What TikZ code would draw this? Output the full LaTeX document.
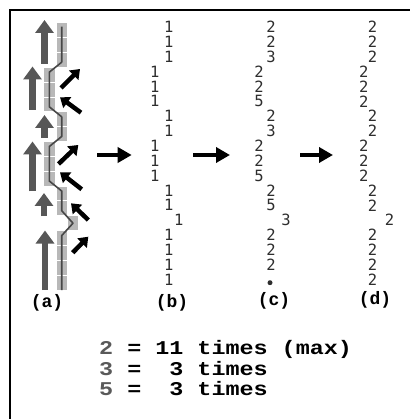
\documentclass[tikz,border=0pt]{standalone}
\usepackage{fontspec}
\setmonofont{Liberation Mono}
\newfontfamily\digitfont{DejaVu Sans Mono}
\newfontfamily\legendfont[FakeStretch=1.2]{Liberation Mono Bold}
\usetikzlibrary{arrows.meta}
\definecolor{cellgray}{gray}{0.72}
\definecolor{upgray}{gray}{0.34}
\definecolor{digitgray}{gray}{0.18}
\def\cellh{14.85}
\tikzset{
	cell/.style={fill=cellgray, draw=white, line width=0.8pt},
	uparrow/.style={upgray, line width=6.5pt, -{Triangle[width=18pt,length=13pt]}},
	tiltarrow/.style={black, line width=4.5pt, -{Triangle[width=13pt,length=9pt]}},
	bigarrow/.style={black, line width=4.5pt, -{Triangle[width=15pt,length=14pt]}},
	pathline/.style={black!72, line width=1.6pt, line join=round},
	digit/.style={inner sep=0pt, text=digitgray, font=\digitfont\fontsize{15.5}{15.5}\selectfont},
	tag/.style={inner sep=0pt, font=\ttfamily\bfseries\fontsize{18}{18}\selectfont},
	legend/.style={inner sep=0pt, anchor=west, font=\legendfont\fontsize{19.5}{19.5}\selectfont}
}

\begin{document}
\begin{tikzpicture}[x=1pt, y=-1pt]
			%%%%% START %%%%%
			\useasboundingbox (0,0) rectangle (410,419);
			
			\draw[line width=2pt] (10,419) -- (10,10) -- (410,10);
			
			% (a) cells and track
			\foreach \cx [count=\k from 0] in {61.7,61.7,61.7,49.3,49.3,49.3,61.7,61.7,49.3,49.3,49.3,61.7,61.7,73,61.7,61.7,61.7,61.7}
				\draw[cell] (\cx-5.8, 22.7+\cellh*\k) rectangle (\cx+5.8, 22.7+\cellh*\k+\cellh);
			
			\draw[pathline] (61.7,26.7) -- (61.7,62.2) -- (49.3,72.2) -- (49.3,106.8) -- (61.7,116.8)
				-- (61.7,136.5) -- (49.3,146.5) -- (49.3,181) -- (61.7,191) -- (61.7,210.7)
				-- (73,223.2) -- (61.7,235.6) -- (61.7,290);
			
			\draw[uparrow] (44.5,64) -- (44.5,20);
			\draw[uparrow] (32.5,110) -- (32.5,66.5);
			\draw[uparrow] (44.5,138) -- (44.5,115);
			\draw[uparrow] (32.5,191.5) -- (32.5,141.5);
			\draw[uparrow] (44,216) -- (44,193);
			\draw[uparrow] (45,290) -- (45,230.5);
			
			\draw[tiltarrow] (61,88) -- (80,69);
			\draw[tiltarrow] (81,112.7) -- (60,97.3);
			\draw[tiltarrow] (58.5,164) -- (78.3,145);
			\draw[tiltarrow] (81.7,189.3) -- (60,172.3);
			\draw[tiltarrow] (88.3,220) -- (71,203.3);
			\draw[tiltarrow] (72.7,252.7) -- (88.3,236.7);
			
			% (b) (c) (d) columns
			\foreach \d/\xx [count=\k from 0] in {1/168.7,1/168.7,1/168.7,1/154.7,1/154.7,1/154.7,1/168.7,1/168.7,1/154.7,1/154.7,1/154.7,1/168.7,1/168.7,1/178.7,1/168.7,1/168.7,1/168.7,1/168.7}
				\node[digit] (b\k) at (\xx, 27.1+\cellh*\k) {\d};
			
			\foreach \d/\xx [count=\k from 0] in {2/271,2/271,3/271,2/259,2/259,5/259,2/271,3/271,2/259,2/259,5/259,2/271,5/271,3/286,2/271,2/271,2/271}
				\node[digit] (c\k) at (\xx, 27.1+\cellh*\k) {\d};
			\node[circle, fill=digitgray, inner sep=0pt, minimum size=5pt] (c17) at (270,282.7) {};
			
			\foreach \d/\xx [count=\k from 0] in {2/372.5,2/372.5,2/372.5,2/363.8,2/363.8,2/363.8,2/372.5,2/372.5,2/363.8,2/363.8,2/363.8,2/372.5,2/372.5,2/389.5,2/372.5,2/372.5,2/372.5,2/372.5}
				\node[digit] (d\k) at (\xx, 27.1+\cellh*\k) {\d};
			
			% arrows between panels
			\coordinate (ab0) at (97,155);
			\coordinate (ab1) at (131.7,155);
			\coordinate (bc0) at (193,155);
			\coordinate (bc1) at (230,155);
			\coordinate (cd0) at (300,155);
			\coordinate (cd1) at (333,155);
			\draw[bigarrow] (ab0) -- (ab1);
			\draw[bigarrow] (bc0) -- (bc1);
			\draw[bigarrow] (cd0) -- (cd1);
			
			\node[tag] (taga) at (47,303) {(a)};
			\node[tag] (tagb) at (172,303) {(b)};
			\node[tag] (tagc) at (274,301) {(c)};
			\node[tag] (tagd) at (375,300) {(d)};
			
			\node[legend] (leg2) at (99,349) {{\color{black!65}2} = 11 times (max)};
			\node[legend] (leg3) at (99,369) {{\color{black!65}3} =~~3 times};
			\node[legend] (leg5) at (99,389) {{\color{black!65}5} =~~3 times};
			%%%%% END %%%%%
\end{tikzpicture}
\end{document}
